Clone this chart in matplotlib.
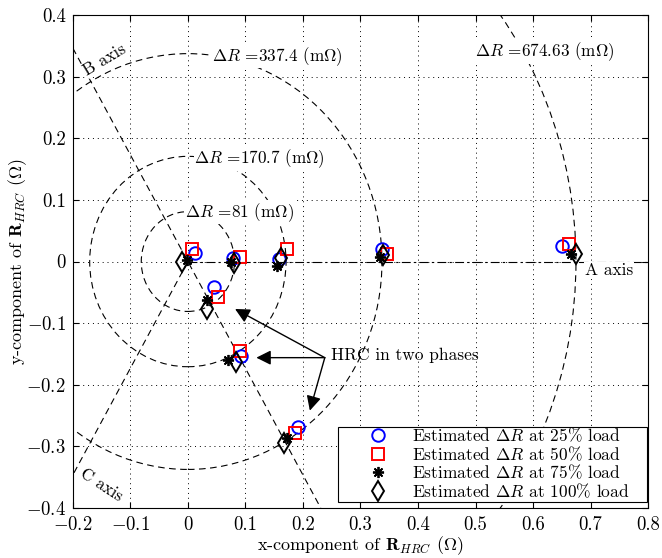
import numpy as np
import matplotlib.pyplot as plt
from matplotlib.patches import Circle, Rectangle

plt.rcParams['font.family'] = 'serif'
plt.rcParams['font.serif'] = ['cmr10']
plt.rcParams['mathtext.fontset'] = 'cm'
plt.rcParams['axes.formatter.use_mathtext'] = True
plt.rcParams['font.size'] = 12

# radii of the constant-dR circles (ohm) and their labels
radii = [0.081, 0.1707, 0.3374, 0.67463]
radius_labels = ['81', '170.7', '337.4', '674.63']
label_pos = [(-0.005, 0.080), (0.011, 0.167), (0.042, 0.333), (0.499, 0.340)]

# estimated points, one array per load level
x_25 = [0.013, 0.079, 0.158, 0.337, 0.650, 0.046, 0.093, 0.192]
y_25 = [0.014, 0.006, 0.004, 0.021, 0.026, -0.041, -0.154, -0.268]
x_50 = [0.008, 0.091, 0.172, 0.347, 0.663, 0.053, 0.090, 0.186]
y_50 = [0.021, 0.008, 0.021, 0.013, 0.028, -0.057, -0.146, -0.279]
x_75 = [-0.002, 0.075, 0.155, 0.334, 0.666, 0.033, 0.070, 0.172]
y_75 = [0.002, 0.000, -0.008, 0.007, 0.013, -0.062, -0.160, -0.286]
x_100 = [-0.010, 0.081, 0.162, 0.340, 0.675, 0.033, 0.083, 0.167]
y_100 = [-0.001, -0.002, 0.006, 0.010, 0.013, -0.077, -0.163, -0.294]

# arrow targets for the "HRC in two phases" note
arrow_tips = [(0.082, -0.077), (0.119, -0.156), (0.212, -0.242)]
arrow_start = (0.238, -0.156)

xticks = [-0.2, -0.1, 0, 0.1, 0.2, 0.3, 0.4, 0.5, 0.6, 0.7, 0.8]
xtick_labels = ['-0.2', '-0.1', '0', '0.1', '0.2', '0.3', '0.4', '0.5', '0.6', '0.7', '0.8']
yticks = [-0.4, -0.3, -0.2, -0.1, 0, 0.1, 0.2, 0.3, 0.4]
ytick_labels = ['-0.4', '-0.3', '-0.2', '-0.1', '0', '0.1', '0.2', '0.3', '0.4']

fig = plt.figure(figsize=(6.62, 5.58), dpi=100)
ax = fig.add_axes([0.110, 0.0896, 0.869, 0.8834])

# dashed circles
for r in radii:
    ax.add_patch(Circle((0, 0), r, fill=False, ls=(0, (6, 4)), lw=0.8, color='k', zorder=2))
for lab, (tx, ty) in zip(radius_labels, label_pos):
    ax.text(tx, ty, r'$\Delta R$ =' + lab + r' (m$\Omega$)', va='center', ha='left', fontsize=12.3,
            zorder=3, bbox=dict(facecolor='white', edgecolor='none', pad=0.5))

# phase axes
ax.plot([0, 0.8], [0, 0], color='k', lw=0.8, ls=(0, (8, 3, 2, 3)), zorder=2)
ax.axline((0, 0), slope=np.tan(np.radians(120)), color='k', lw=0.8, ls=(0, (6, 4)), zorder=2)
ax.plot([0, np.cos(np.radians(240))], [0, np.sin(np.radians(240))], color='k', lw=0.8,
        ls=(0, (6, 4)), zorder=2)
ax.text(0.690, -0.015, 'A axis', va='center', ha='left', fontsize=12.5, zorder=3,
        bbox=dict(facecolor='white', edgecolor='none', pad=0.5))
ax.text(-0.144, 0.327, 'B axis', va='center', ha='center', rotation=31, fontsize=12.3, zorder=3,
        bbox=dict(facecolor='white', edgecolor='none', pad=0.3))
ax.text(-0.151, -0.363, 'C axis', va='center', ha='center', rotation=-33, fontsize=12.3, zorder=3,
        bbox=dict(facecolor='white', edgecolor='none', pad=0.3))

# data
ax.plot(x_25, y_25, 'o', mfc='none', mec='b', mew=1.4, ms=9, ls='none', zorder=4,
        label=r'Estimated $\Delta R$ at 25% load')
ax.plot(x_50, y_50, 's', mfc='none', mec='r', mew=1.4, ms=8, ls='none', zorder=4,
        label=r'Estimated $\Delta R$ at 50% load')
ax.plot(x_75, y_75, marker=(8, 2, 0), mfc='none', mec='k', mew=1.3, ms=8, ls='none', zorder=4,
        label=r'Estimated $\Delta R$ at 75% load')
ax.plot(x_100, y_100, 'd', mfc='none', mec='k', mew=1.4, ms=10, ls='none', zorder=4,
        label=r'Estimated $\Delta R$ at 100% load')

# annotation
for tip in arrow_tips:
    ax.annotate('', xy=tip, xytext=arrow_start,
                arrowprops=dict(arrowstyle='-|>', color='k', lw=1, mutation_scale=22,
                                shrinkA=0, shrinkB=0), zorder=5)
ax.text(0.248, -0.153, 'HRC in two phases', va='center', ha='left', fontsize=12.5)

ax.set_xlim(-0.2, 0.8)
ax.set_ylim(-0.4, 0.4)
ax.set_xticks(xticks)
ax.set_yticks(yticks)
ax.set_xticklabels([t.replace('-', r'$-$') for t in xtick_labels])
ax.set_yticklabels([t.replace('-', r'$-$') for t in ytick_labels])
ax.tick_params(direction='in', top=True, right=True, length=4, labelsize=13.5)
ax.tick_params(axis='x', pad=6)
ax.tick_params(axis='y', pad=5)
ax.grid(True, color='k', ls=(0, (1, 4)), lw=0.7)
for s in ax.spines.values():
    s.set_linewidth(0.8)

ax.set_xlabel(r'x-component of $\mathbf{R}_{HRC}$ $(\Omega)$', fontsize=13)
ax.set_ylabel(r'y-component of $\mathbf{R}_{HRC}$ $(\Omega)$', fontsize=13)
ax.xaxis.set_label_coords(0.5, -0.053)
ax.yaxis.set_label_coords(-0.076, 0.5)

# legend box drawn separately so it can be wider than the entries
ax.add_patch(Rectangle((0.461, 0.012), 0.537, 0.152, transform=ax.transAxes,
                       facecolor='white', edgecolor='k', lw=0.8, zorder=6))
leg = ax.legend(loc='lower left', bbox_to_anchor=(0.483, 0.006), borderaxespad=0,
                frameon=False, fontsize=12.5, handletextpad=0.76, labelspacing=0.0,
                borderpad=0.3, handlelength=2.5)
leg.set_zorder(7)

fig.savefig('out.png', dpi=100)
